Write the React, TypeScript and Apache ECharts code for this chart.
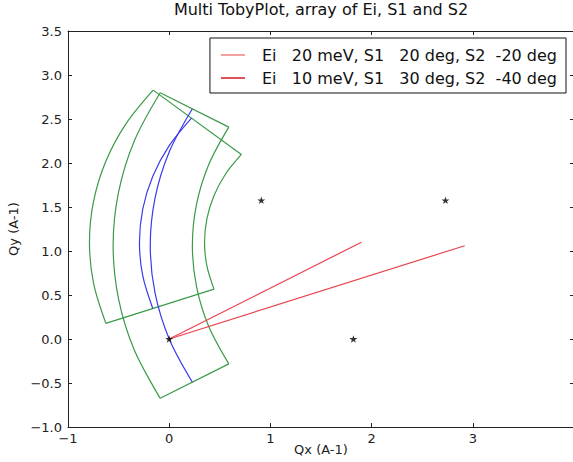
import { useEffect, useRef } from 'react';
import * as echarts from 'echarts';

// ---- axis ranges / ticks ----
const xMin = -1;
const xMax = 4;
const xStep = 1;
const yMin = -1;
const yMax = 3.5;
const yStep = 0.5;

const titleText = 'Multi TobyPlot, array of Ei, S1 and S2';
const xName = 'Qx (A-1)';
const yName = 'Qy (A-1)';

const legendLabels = [
  'Ei   20 meV, S1   20 deg, S2  -20 deg',
  'Ei   10 meV, S1   30 deg, S2  -40 deg',
];

// ---- Ei 20 meV, S1 20 deg coverage ----
const ei20Outer = [
  [-0.089, 2.799], [-0.345, 2.251], [-0.501, 1.666], [-0.554, 1.063],
  [-0.501, 0.459], [-0.345, -0.125], [-0.089, -0.674],
];
const ei20Inner = [
  [0.589, 2.408], [0.391, 1.983], [0.27, 1.53], [0.229, 1.063],
  [0.27, 0.595], [0.391, 0.142], [0.589, -0.283],
];
const ei20Elastic = [
  [0.229, 2.616], [0.0, 2.125], [-0.14, 1.602], [-0.187, 1.063],
  [-0.14, 0.523], [0.0, 0.0], [0.229, -0.491],
];

// ---- Ei 10 meV, S1 30 deg coverage ----
const ei10Outer = [
  [-0.159, 2.828], [-0.428, 2.444], [-0.626, 2.019], [-0.747, 1.566],
  [-0.788, 1.098], [-0.747, 0.631], [-0.626, 0.178],
];
const ei10Inner = [
  [0.713, 2.097], [0.557, 1.875], [0.443, 1.63], [0.373, 1.368],
  [0.349, 1.098], [0.373, 0.829], [0.443, 0.567],
];
const ei10Elastic = [
  [0.22, 2.511], [0.0, 2.197], [-0.162, 1.85], [-0.261, 1.48],
  [-0.294, 1.098], [-0.261, 0.717], [-0.162, 0.347],
];

// ---- incident wave vectors (red lines) ----
const kiEi20 = [[0, 0], [2.92, 1.06]];
const kiEi10 = [[0, 0], [1.9, 1.1]];

// ---- Bragg peaks (stars) ----
const braggPeaks = [[0, 0], [0.91, 1.576], [1.82, 0], [2.73, 1.576]];

const FONT = 'DejaVu Sans';
const GREEN = '#3a9a48';
const BLUE = '#3a3aee';
const RED = '#e8444e';
const legendColors = ['#f2a0a0', '#e4505a'];
const STAR =
  'path://M50,0L61.23,34.55L97.55,34.55L68.17,55.9L79.39,90.45L50,69.1L20.61,90.45L31.83,55.9L2.45,34.55L38.77,34.55Z';

const minus = (s: string) => s.replace('-', '\u2212');

function lineSeries(name: string, data: number[][], color: string, z: number, smooth = 0.33) {
  return {
    type: 'line',
    name,
    data,
    smooth,
    symbol: 'none',
    showSymbol: false,
    lineStyle: { color, width: 1.2 },
    itemStyle: { color },
    z,
    silent: true,
  };
}

export default function App() {
  const ref = useRef<HTMLDivElement>(null);

  useEffect(() => {
    if (!ref.current) return;
    const chart = echarts.init(ref.current, undefined, { renderer: 'svg' });

    const shapes = [
      [ei20Outer, ei20Inner],
      [ei10Outer, ei10Inner],
    ];
    const greenSeries: any[] = [];
    shapes.forEach(([outer, inner], i) => {
      greenSeries.push(lineSeries('green-outer-' + i, outer, GREEN, 2));
      greenSeries.push(lineSeries('green-inner-' + i, inner, GREEN, 2));
      greenSeries.push(lineSeries('green-top-' + i, [outer[0], inner[0]], GREEN, 2, 0));
      greenSeries.push(
        lineSeries('green-bottom-' + i, [outer[outer.length - 1], inner[inner.length - 1]], GREEN, 2, 0)
      );
    });

    const axisLineStyle = { color: '#222', width: 1 };
    const tickStyle = { color: '#222', width: 1 };
    const labelStyle = { fontFamily: FONT, fontSize: 13, color: '#222' };

    const option: any = {
      animation: false,
      backgroundColor: '#ffffff',
      title: {
        text: titleText,
        left: 321,
        top: 1,
        textAlign: 'center',
        padding: 0,
        textStyle: { fontFamily: FONT, fontSize: 16, fontWeight: 'normal', color: '#111' },
      },
      legend: {
        data: legendLabels.map((name, i) => ({
          name,
          icon: 'rect',
          itemStyle: { color: legendColors[i] },
        })),
        icon: 'rect',
        orient: 'vertical',
        right: 7,
        top: 38,
        itemWidth: 24,
        itemHeight: 2,
        itemGap: 5,
        padding: [8, 9, 6, 11],
        borderColor: '#111',
        borderWidth: 1,
        borderRadius: 0,
        backgroundColor: '#ffffff',
        selectedMode: false,
        textStyle: {
          fontFamily: FONT,
          fontSize: 16,
          color: '#111',
          lineHeight: 18,
          padding: [0, 0, 0, 12],
        },
      },
      grid: {
        left: 68,
        top: 31,
        width: 506,
        height: 396,
        containLabel: false,
        outerBoundsMode: 'none',
      },
      xAxis: [
        {
          type: 'value',
          min: xMin,
          max: xMax,
          interval: xStep,
          position: 'bottom',
          name: xName,
          nameLocation: 'middle',
          nameGap: 16,
          nameMoveOverlap: false,
          nameTextStyle: { fontFamily: FONT, fontSize: 13, color: '#222' },
          axisLine: { show: true, onZero: false, lineStyle: axisLineStyle },
          axisTick: { show: true, inside: true, length: 4, lineStyle: tickStyle },
          axisLabel: {
            ...labelStyle,
            margin: 5,
            showMaxLabel: false,
            formatter: (v: number) => minus(String(v)),
          },
          splitLine: { show: false },
        },
        {
          type: 'value',
          min: xMin,
          max: xMax,
          interval: xStep,
          position: 'top',
          axisLine: { show: true, onZero: false, lineStyle: axisLineStyle },
          axisTick: { show: true, inside: true, length: 4, lineStyle: tickStyle },
          axisLabel: { show: false },
          splitLine: { show: false },
        },
      ],
      yAxis: [
        {
          type: 'value',
          min: yMin,
          max: yMax,
          interval: yStep,
          position: 'left',
          name: yName,
          nameLocation: 'middle',
          nameGap: 42,
          nameTextStyle: { fontFamily: FONT, fontSize: 13, color: '#222' },
          axisLine: { show: true, onZero: false, lineStyle: axisLineStyle },
          axisTick: { show: true, inside: true, length: 4, lineStyle: tickStyle },
          axisLabel: { ...labelStyle, margin: 6, formatter: (v: number) => minus(v.toFixed(1)) },
          splitLine: { show: false },
        },
        {
          type: 'value',
          min: yMin,
          max: yMax,
          interval: yStep,
          position: 'right',
          axisLine: { show: true, onZero: false, lineStyle: axisLineStyle },
          axisTick: { show: true, inside: true, length: 4, lineStyle: tickStyle },
          axisLabel: { show: false },
          splitLine: { show: false },
        },
      ],
      series: [
        ...greenSeries,
        lineSeries('blue-ei20', ei20Elastic, BLUE, 3),
        lineSeries('blue-ei10', ei10Elastic, BLUE, 3),
        lineSeries(legendLabels[0], kiEi20, RED, 4, 0),
        lineSeries(legendLabels[1], kiEi10, RED, 4, 0),
        {
          type: 'scatter',
          name: 'peaks',
          data: braggPeaks,
          symbol: STAR,
          symbolSize: 8,
          symbolKeepAspect: true,
          itemStyle: { color: '#000' },
          z: 5,
          silent: true,
        },
      ],
    };

    chart.setOption(option);
    return () => chart.dispose();
  }, []);

  return (
    <div
      ref={ref}
      style={{ position: 'absolute', left: 0, top: 0, width: 573, height: 462, background: '#fff' }}
    />
  );
}
